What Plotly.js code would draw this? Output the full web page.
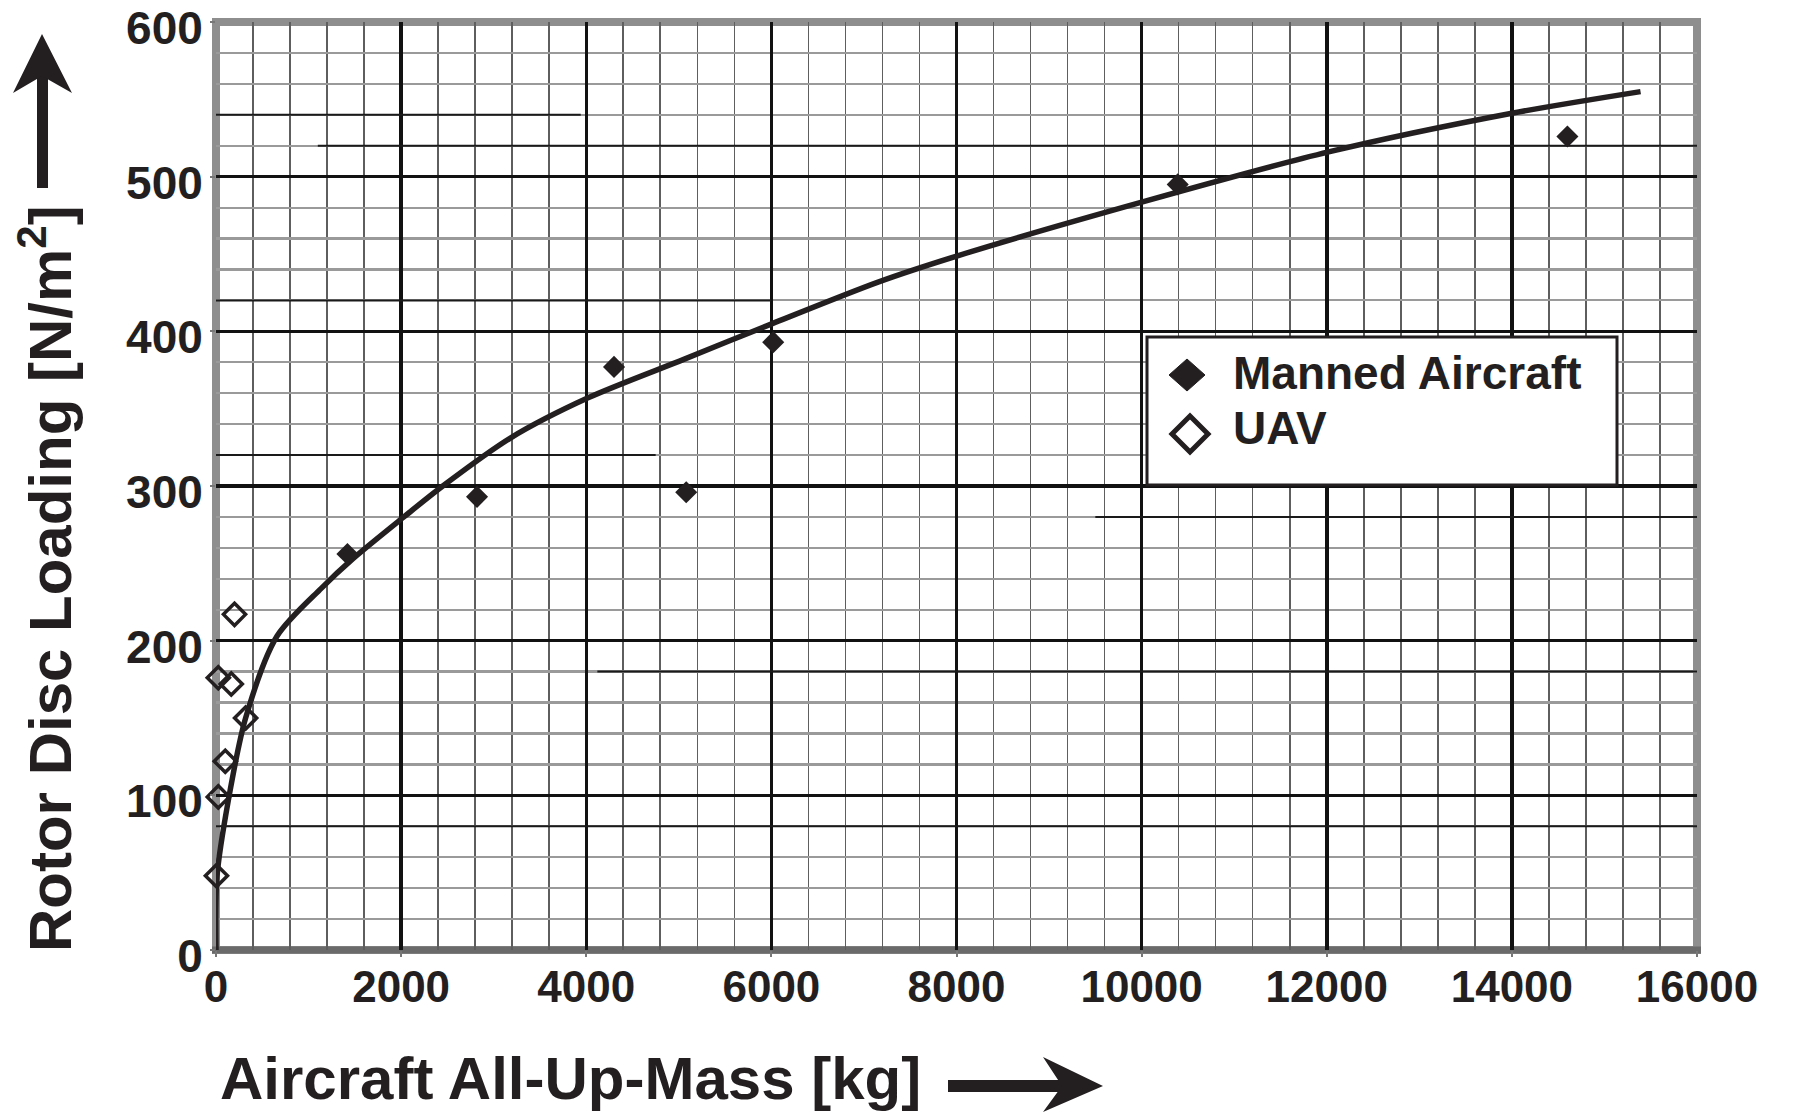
<!DOCTYPE html>
<html>
<head>
<meta charset="utf-8">
<script src="https://cdn.plot.ly/plotly-3.0.1.min.js"></script>
<style>
html,body{margin:0;padding:0;background:#ffffff;}
#chart{width:1812px;height:1114px;}
</style>
</head>
<body>
<div id="chart"></div>
<script>
// ---------------- DATA ----------------
const seriesNames = ['Manned Aircraft', 'UAV'];

const mannedMass    = [1420, 2820, 4300, 5080, 6020, 10390, 14600];
const mannedLoading = [256, 293, 377, 296, 393, 495, 526];

const uavMass    = [200, 25, 165, 320, 100, 25, 5];
const uavLoading = [217, 176, 172, 150, 122, 99, 48];

const trendMass    = [0, 10, 140, 320, 660, 1140, 1480, 2030, 2450, 3180, 4020, 5060, 6010, 7160, 8020, 10030, 12020, 14000, 15390];
const trendLoading = [0, 47, 99, 150, 203, 234, 253, 280, 300, 331, 357, 382, 405, 432, 449, 484, 516, 541, 555];

const xTickVals = [0, 2000, 4000, 6000, 8000, 10000, 12000, 14000, 16000];
const xTickText = ['0', '2000', '4000', '6000', '8000', '10000', '12000', '14000', '16000'];
const yTickVals = [0, 100, 200, 300, 400, 500, 600];
const yTickText = ['0', '100', '200', '300', '400', '500', '600'];

const xTitle = 'Aircraft All-Up-Mass [kg]';
const yTitle = 'Rotor Disc Loading [N/m<sup>2</sup>]';

// ---------------- LAYOUT GEOMETRY (pixels) ----------------
const W = 1812, H = 1114;
const PL = 216, PR = 1697, PT = 22, PB = 950;
const XMAX = 16000, YMAX = 600;
const px = v => (v - PL) / (PR - PL);         // pixel -> paper x
const py = v => (PB - v) / (PB - PT);         // pixel -> paper y

const FONT = 'Liberation Sans, Arial, Helvetica, sans-serif';
const INK = '#231f20';

// graph-paper artefact lines (darker minor rules in the scanned paper)
const darkRules = [
  {y: 540, from: 0, to: 3940},
  {y: 520, from: 1100, to: 16000},
  {y: 420, from: 0, to: 6000},
  {y: 320, from: 0, to: 4750},
  {y: 280, from: 9500, to: 16000},
  {y: 180, from: 4120, to: 16000},
  {y: 80, from: 0, to: 16000}
];

const shapes = [];
darkRules.forEach(r => shapes.push({
  type: 'line', xref: 'x', yref: 'y', x0: r.from, x1: r.to, y0: r.y, y1: r.y,
  line: {color: '#1a1a1a', width: 2}, layer: 'between'
}));

// plot frame (grey, centred on the outer grid rules) and darker base line
shapes.push({type: 'rect', xref: 'paper', yref: 'paper', x0: 0, x1: 1, y0: 0, y1: 1,
  line: {color: '#8e8e8e', width: 8}, fillcolor: 'rgba(0,0,0,0)', layer: 'between'});
shapes.push({type: 'line', xref: 'paper', yref: 'paper', x0: px(212), x1: px(1701), y0: 0, y1: 0,
  line: {color: '#6a6a6a', width: 7}, layer: 'between'});

function pathOf(pts) {
  return 'M ' + pts.map(p => px(p[0]) + ',' + py(p[1])).join(' L ') + ' Z';
}

// legend box and its keys
shapes.push({type: 'rect', xref: 'paper', yref: 'paper',
  x0: px(1147), x1: px(1617), y0: py(485), y1: py(337),
  fillcolor: '#ffffff', line: {color: INK, width: 3}, layer: 'above'});
shapes.push({type: 'path', xref: 'paper', yref: 'paper',
  path: pathOf([[1187, 359], [1205, 375], [1187, 391], [1169, 375]]),
  fillcolor: INK, line: {color: INK, width: 1}, layer: 'above'});
shapes.push({type: 'path', xref: 'paper', yref: 'paper',
  path: pathOf([[1190, 416], [1208, 434], [1190, 452], [1172, 434]]),
  fillcolor: '#ffffff', line: {color: INK, width: 5}, layer: 'above'});

// y-axis arrow (pointing up)
shapes.push({type: 'path', xref: 'paper', yref: 'paper',
  path: pathOf([[37, 188], [37, 72], [48, 72], [48, 188]]),
  fillcolor: INK, line: {width: 0}, layer: 'above'});
shapes.push({type: 'path', xref: 'paper', yref: 'paper',
  path: pathOf([[42, 34], [72, 93], [42, 76], [13, 93]]),
  fillcolor: INK, line: {width: 0}, layer: 'above'});
// x-axis arrow (pointing right)
shapes.push({type: 'path', xref: 'paper', yref: 'paper',
  path: pathOf([[948, 1080], [1066, 1080], [1066, 1092], [948, 1092]]),
  fillcolor: INK, line: {width: 0}, layer: 'above'});
shapes.push({type: 'path', xref: 'paper', yref: 'paper',
  path: pathOf([[1103, 1086], [1043, 1112], [1062, 1086], [1043, 1057]]),
  fillcolor: INK, line: {width: 0}, layer: 'above'});

const traces = [
  {
    x: trendMass, y: trendLoading, type: 'scatter', mode: 'lines',
    line: {color: INK, width: 5.5, shape: 'spline', smoothing: 0.8},
    showlegend: false, hoverinfo: 'skip', cliponaxis: false
  },
  {
    x: mannedMass, y: mannedLoading, type: 'scatter', mode: 'markers', name: seriesNames[0],
    marker: {symbol: 'diamond', size: 17, color: INK, line: {width: 0}},
    showlegend: false, cliponaxis: false
  },
  {
    x: uavMass, y: uavLoading, type: 'scatter', mode: 'markers', name: seriesNames[1],
    marker: {symbol: 'diamond-open', size: 17, color: INK, line: {width: 3.5}},
    showlegend: false, cliponaxis: false
  }
];

const annotations = [
  {text: yTitle, xref: 'paper', yref: 'paper', x: px(46), y: py(579),
   textangle: -90, showarrow: false, xanchor: 'center', yanchor: 'middle',
   font: {family: FONT, size: 60, color: INK, weight: 'bold'}},
  {text: xTitle, xref: 'paper', yref: 'paper', x: px(218), y: py(1114),
   showarrow: false, xanchor: 'left', yanchor: 'bottom',
   font: {family: FONT, size: 60, color: INK, weight: 'bold'}},
  {text: seriesNames[0], xref: 'paper', yref: 'paper', x: px(1231), y: py(373),
   showarrow: false, xanchor: 'left', yanchor: 'middle',
   font: {family: FONT, size: 46, color: INK, weight: 'bold'}},
  {text: seriesNames[1], xref: 'paper', yref: 'paper', x: px(1231), y: py(428),
   showarrow: false, xanchor: 'left', yanchor: 'middle',
   font: {family: FONT, size: 46, color: INK, weight: 'bold'}}
];

const layout = {
  width: W, height: H,
  margin: {l: PL, r: W - PR, t: PT, b: H - PB, pad: 0},
  paper_bgcolor: '#ffffff', plot_bgcolor: '#ffffff',
  showlegend: false,
  font: {family: FONT, color: INK},
  xaxis: {
    range: [0, XMAX], tickmode: 'array', tickvals: xTickVals, ticktext: xTickText,
    tickfont: {family: FONT, size: 44, color: INK, weight: 'bold'},
    ticks: 'outside', ticklen: 6, tickwidth: 2, tickcolor: '#777777',
    ticklabelstandoff: -8, ticklabeloverflow: 'allow',
    showgrid: true, gridcolor: '#111111', gridwidth: 3.5,
    minor: {dtick: 400, tick0: 0, showgrid: true, gridcolor: '#5e5e5e', gridwidth: 1.6, ticks: ''},
    showline: false, zeroline: false, fixedrange: true
  },
  yaxis: {
    range: [0, YMAX], tickmode: 'array', tickvals: yTickVals, ticktext: yTickText,
    tickfont: {family: FONT, size: 46, color: INK, weight: 'bold'},
    ticks: 'outside', ticklen: 5, tickwidth: 2, tickcolor: '#777777',
    ticklabelstandoff: -2, ticklabelshift: 6, ticklabeloverflow: 'allow',
    showgrid: true, gridcolor: '#111111', gridwidth: 3.5,
    minor: {dtick: 20, tick0: 0, showgrid: true, gridcolor: '#9a9a9a', gridwidth: 2.2, ticks: ''},
    showline: false, zeroline: false, fixedrange: true
  },
  shapes: shapes,
  annotations: annotations
};

Plotly.newPlot('chart', traces, layout, {displayModeBar: false, staticPlot: true});
</script>
</body>
</html>
